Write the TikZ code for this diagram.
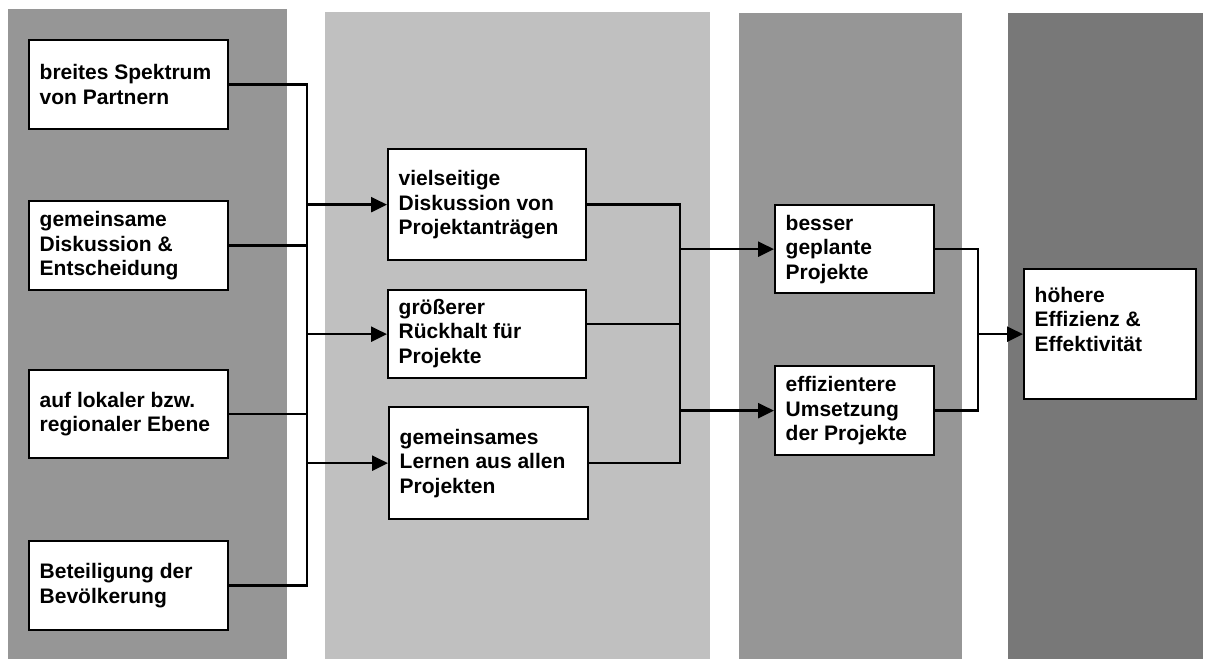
\documentclass[tikz,border=0pt]{standalone}
\usepackage{fontspec}
\setmainfont{Liberation Sans}
\usetikzlibrary{arrows.meta,calc}
\definecolor{bandA}{RGB}{150,150,150}
\definecolor{bandB}{RGB}{192,192,192}
\definecolor{bandC}{RGB}{150,150,150}
\definecolor{bandD}{RGB}{120,120,120}
\tikzset{
  box/.style={draw, line width=2.3pt, fill=white, inner sep=0pt, anchor=north west},
  lbl/.style={align=left, inner sep=0pt, anchor=west, font=\fontsize{21pt}{24.5pt}\selectfont\bfseries},
  conn/.style={line width=2.4pt},
  thinconn/.style={line width=1.5pt},
  arr/.style={line width=2.4pt, -{Triangle[length=16pt,width=15pt]}}
}
\begin{document}
\begin{tikzpicture}[x=1pt,y=-1pt]
\useasboundingbox (0,0) rectangle (1209,659);
% background bands
\fill[bandA] (8,9) rectangle (287,659);
\fill[bandB] (325,12) rectangle (709.5,659);
\fill[bandC] (739,13) rectangle (962,659);
\fill[bandD] (1008,13) rectangle (1202.5,659);
% boxes
\node[box, minimum width=199pt, minimum height=89pt] (A) at (28,39) {};
\node[box, minimum width=199pt, minimum height=89pt] (B) at (28,200) {};
\node[box, minimum width=199pt, minimum height=88pt] (C) at (28,369) {};
\node[box, minimum width=199pt, minimum height=89pt] (D) at (28,540) {};
\node[box, minimum width=198pt, minimum height=111pt] (E) at (387,148) {};
\node[box, minimum width=198pt, minimum height=88pt] (F) at (387,289) {};
\node[box, minimum width=199pt, minimum height=112pt] (G) at (388,406) {};
\node[box, minimum width=159pt, minimum height=88pt] (H) at (774,204) {};
\node[box, minimum width=159pt, minimum height=89pt] (I) at (774,365) {};
\node[box, minimum width=172pt, minimum height=130pt] (J) at (1023,268) {};
% labels
\node[lbl] (At) at ([xshift=11.5pt]A.west) {breites Spektrum\\von Partnern};
\node[lbl] (Bt) at ([xshift=11.5pt]B.west) {gemeinsame\\Diskussion \&\\Entscheidung};
\node[lbl] (Ct) at ([xshift=11.5pt]C.west) {auf lokaler bzw.\\regionaler Ebene};
\node[lbl] (Dt) at ([xshift=11.5pt]D.west) {Beteiligung der\\Bevölkerung};
\node[lbl] (Et) at ([xshift=11.5pt]E.west) {vielseitige\\Diskussion von\\Projektanträgen};
\node[lbl] (Ft) at ([xshift=11.5pt,yshift=1pt]F.west) {größerer\\Rückhalt für\\Projekte};
\node[lbl] (Gt) at ([xshift=11.5pt]G.west) {gemeinsames\\Lernen aus allen\\Projekten};
\node[lbl] (Ht) at ([xshift=11.5pt]H.west) {besser\\geplante\\Projekte};
\node[lbl] (It) at ([xshift=11.5pt]I.west) {effizientere\\Umsetzung\\der Projekte};
\node[lbl] (Jt) at ([xshift=11.5pt,yshift=15pt]J.west) {höhere\\Effizienz \&\\Effektivität};
% bus coordinates
\coordinate (bx) at (307,0);
\coordinate (cx) at (680,0);
\coordinate (dx) at (978,0);
% left bus
\draw[conn] (A.east) -| (bx |- D.east) -- (D.east);
\draw[conn] (B.east) -- (B.east -| bx);
\draw[thinconn] (C.east) -- (C.east -| bx);
\draw[arr] (E.west -| bx) -- (E.west);
\draw[arr] (F.west -| bx) -- (F.west);
\draw[arr] (G.west -| bx) -- (G.west);
% middle bus
\draw[conn] (E.east) -| (cx |- G.east) -- (G.east);
\draw[thinconn] ([yshift=10pt]F.east) -- ([yshift=10pt]F.east -| cx);
\draw[arr] (H.west -| cx) -- (H.west);
\draw[arr] (I.west -| cx) -- (I.west);
% right bus
\draw[conn] (H.east) -| (dx |- I.east) -- (I.east);
\draw[arr] (J.west -| dx) -- (J.west);
\end{tikzpicture}
\end{document}
